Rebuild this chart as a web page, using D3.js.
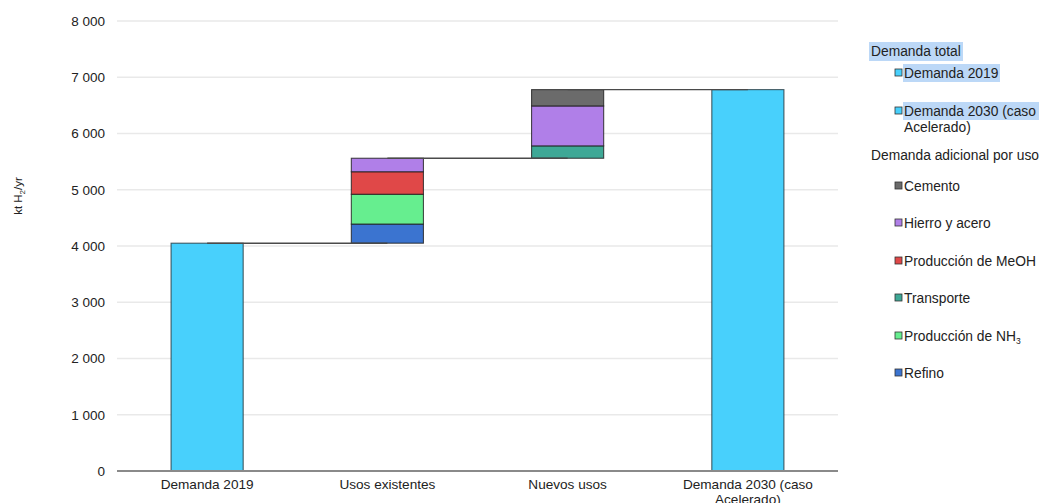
<!DOCTYPE html>
<html><head><meta charset="utf-8">
<script src="https://cdn.jsdelivr.net/npm/d3@7"></script>
<style>
html,body{margin:0;padding:0;background:#fff;}
svg text{font-family:"Liberation Sans",Arial,sans-serif;fill:#222;}
</style>
</head><body>
<svg id="c" width="1042" height="503"></svg>
<script>
// ---- data ----
const categories = ["Demanda 2019", "Usos existentes", "Nuevos usos", "Demanda 2030 (caso Acelerado)"];
const demandaTotal = [4050, 0, 0, 6780];
const refino      = [0, 340, 0, 0];
const produccionNH3 = [0, 530, 0, 0];
const transporte  = [0, 0, 220, 0];
const produccionMeOH = [0, 400, 0, 0];
const hierroAcero = [0, 240, 710, 0];
const cemento     = [0, 0, 290, 0];
const yTicks = [0, 1000, 2000, 3000, 4000, 5000, 6000, 7000, 8000];
const tickLabels = ["0", "1 000", "2 000", "3 000", "4 000", "5 000", "6 000", "7 000", "8 000"];

const seriesKeys = ["Refino", "Producción de NH3", "Transporte", "Producción de MeOH", "Hierro y acero", "Cemento"];
const seriesVals = [refino, produccionNH3, transporte, produccionMeOH, hierroAcero, cemento];
const colors = {
  "Demanda total": "#48D0FC",
  "Refino": "#3B74D0",
  "Producción de NH3": "#66EE8F",
  "Transporte": "#3EA896",
  "Producción de MeOH": "#E04848",
  "Hierro y acero": "#B07FE8",
  "Cemento": "#6B6B6B"
};

// ---- layout ----
const svg = d3.select("#c");
const x0 = 117, x1 = 838, yTop = 21, yBot = 471;
const x = d3.scaleBand().domain(categories).range([x0, x1]).paddingInner(0.6).paddingOuter(0.3);
const y = d3.scaleLinear().domain([0, 8000]).range([yBot, yTop]);

// gridlines
svg.append("g").selectAll("line").data(yTicks.filter(d => d > 0)).join("line")
  .attr("x1", x0).attr("x2", x1)
  .attr("y1", d => y(d)).attr("y2", d => y(d))
  .attr("stroke", "#e9e9e9").attr("stroke-width", 1.5);

// y axis ticks
const yAxis = d3.axisLeft(y).tickValues(yTicks).tickFormat((d, i) => tickLabels[i]).tickSize(0).tickPadding(12);
const gy = svg.append("g").attr("transform", `translate(${x0},0)`).call(yAxis);
gy.select(".domain").remove();
gy.selectAll("text").attr("font-size", 13.5).attr("fill", "#222").style("font-family", "Liberation Sans, Arial, sans-serif");

// build rows
const rows = categories.map((c, i) => {
  const r = { cat: c, total: demandaTotal[i] };
  seriesKeys.forEach((k, j) => r[k] = seriesVals[j][i]);
  return r;
});
// waterfall bases
let cum = 0;
const bases = rows.map(r => {
  let b;
  if (r.total > 0) { b = 0; cum = r.total; }
  else { b = cum; cum += d3.sum(seriesKeys, k => r[k]); }
  return b;
});
const tops = rows.map((r, i) => r.total > 0 ? r.total : bases[i] + d3.sum(seriesKeys, k => r[k]));

// total bars
svg.append("g").selectAll("rect").data(rows.filter(r => r.total > 0)).join("rect")
  .attr("x", d => x(d.cat)).attr("width", x.bandwidth())
  .attr("y", d => y(d.total)).attr("height", d => y(0) - y(d.total))
  .attr("fill", colors["Demanda total"]).attr("stroke", "#26363c").attr("stroke-opacity", 0.8).attr("stroke-width", 1.1);

// stacked increments
const stack = d3.stack().keys(seriesKeys);
const stacked = stack(rows);
stacked.forEach(layer => {
  svg.append("g").selectAll("rect").data(layer.map((s, i) => ({ s, i })).filter(d => d.s[1] - d.s[0] > 0)).join("rect")
    .attr("x", d => x(categories[d.i])).attr("width", x.bandwidth())
    .attr("y", d => y(bases[d.i] + d.s[1]))
    .attr("height", d => y(bases[d.i] + d.s[0]) - y(bases[d.i] + d.s[1]))
    .attr("fill", colors[layer.key]).attr("stroke", "#1e1e1e").attr("stroke-opacity", 0.8).attr("stroke-width", 1.1);
});

// connectors
const conn = d3.range(categories.length - 1).map(i => ({ i, v: tops[i] }));
svg.append("g").selectAll("line").data(conn).join("line")
  .attr("x1", d => x(categories[d.i]) + x.bandwidth() / 2)
  .attr("x2", d => x(categories[d.i + 1]) + x.bandwidth() / 2)
  .attr("y1", d => y(d.v)).attr("y2", d => y(d.v))
  .attr("stroke", "#4a4a4a").attr("stroke-width", 1.4);

// x axis baseline
svg.append("line").attr("x1", x0).attr("x2", x1).attr("y1", y(0)).attr("y2", y(0))
  .attr("stroke", "#8a8a8a").attr("stroke-width", 1.8);

// category labels
const catLines = [["Demanda 2019"], ["Usos existentes"], ["Nuevos usos"], ["Demanda 2030 (caso", "Acelerado)"]];
svg.append("g").selectAll("text").data(categories).join("text")
  .attr("x", d => x(d) + x.bandwidth() / 2).attr("y", 489)
  .attr("text-anchor", "middle").attr("font-size", 13.6)
  .each(function(d, i) {
    const t = d3.select(this);
    catLines[i].forEach((ln, k) => t.append("tspan").attr("x", x(d) + x.bandwidth() / 2).attr("dy", k === 0 ? 0 : 15).text(ln));
  });

// y axis title
const yt = svg.append("text").attr("transform", "translate(22,196) rotate(-90)")
  .attr("text-anchor", "middle").attr("font-size", 11.5);
yt.append("tspan").text("kt H");
yt.append("tspan").attr("font-size", 8).attr("dy", 3).text("2");
yt.append("tspan").attr("dy", -3).text("/yr");

// legend
const lg = svg.append("g");
const hl = "#bcd8f7";
lg.append("rect").attr("x", 869).attr("y", 42).attr("width", 94).attr("height", 19).attr("fill", hl);
lg.append("rect").attr("x", 903).attr("y", 64).attr("width", 97).attr("height", 18).attr("fill", hl);
lg.append("rect").attr("x", 903).attr("y", 102).attr("width", 136).attr("height", 18).attr("fill", hl);
lg.append("text").attr("x", 871).attr("y", 56).attr("font-size", 13.8).text("Demanda total");
lg.append("text").attr("x", 871).attr("y", 160).attr("font-size", 13.8).text("Demanda adicional por uso");

const legendItems = [
  { key: "Demanda total", lines: ["Demanda 2019"], yc: 73 },
  { key: "Demanda total", lines: ["Demanda 2030 (caso", "Acelerado)"], yc: 111 },
  { key: "Cemento", lines: ["Cemento"], yc: 186 },
  { key: "Hierro y acero", lines: ["Hierro y acero"], yc: 223 },
  { key: "Producción de MeOH", lines: ["Producción de MeOH"], yc: 261 },
  { key: "Transporte", lines: ["Transporte"], yc: 298 },
  { key: "Producción de NH3", lines: ["Producción de NH"], sub: "3", yc: 336 },
  { key: "Refino", lines: ["Refino"], yc: 373 }
];
legendItems.forEach(it => {
  lg.append("rect").attr("x", 895).attr("y", it.yc - 4).attr("width", 7).attr("height", 7)
    .attr("fill", colors[it.key]).attr("stroke", "#333").attr("stroke-width", 0.8);
  const t = lg.append("text").attr("x", 904).attr("y", it.yc + 5).attr("font-size", 13.8);
  it.lines.forEach((ln, k) => {
    t.append("tspan").attr("x", 904).attr("dy", k === 0 ? 0 : 16).text(ln);
  });
  if (it.sub) { t.append("tspan").attr("font-size", 8.5).attr("dy", 2.5).text(it.sub); }
});
</script>
</body></html>
